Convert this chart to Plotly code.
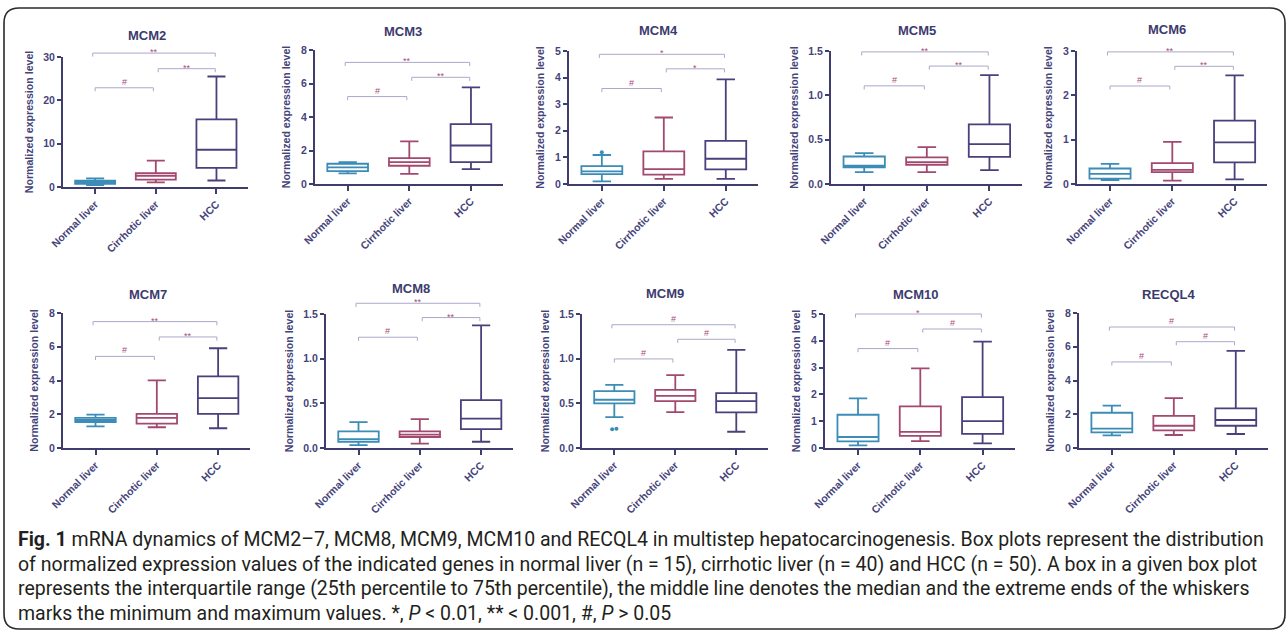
import plotly.graph_objects as go

W, H = 1288, 632

# ---------------- data ----------------
categories = ["Normal liver", "Cirrhotic liver", "HCC"]
genes = ["MCM2", "MCM3", "MCM4", "MCM5", "MCM6", "MCM7", "MCM8", "MCM9", "MCM10", "RECQL4"]

# box statistics: [min, q1, median, q3, max]
MCM2_normal = [0.45, 0.75, 1.05, 1.45, 2.0]
MCM2_cirrhotic = [1.07, 1.7, 2.6, 3.2, 6.1]
MCM2_hcc = [1.5, 4.4, 8.6, 15.6, 25.5]

MCM3_normal = [0.63, 0.77, 0.99, 1.21, 1.31]
MCM3_cirrhotic = [0.6, 1.09, 1.31, 1.55, 2.54]
MCM3_hcc = [0.89, 1.31, 2.3, 3.57, 5.77]

MCM4_normal = [0.1, 0.375, 0.475, 0.675, 1.09]
MCM4_cirrhotic = [0.19, 0.35, 0.56, 1.225, 2.5]
MCM4_hcc = [0.19, 0.55, 0.95, 1.625, 3.93]

MCM5_normal = [0.135, 0.187, 0.206, 0.31, 0.348]
MCM5_cirrhotic = [0.135, 0.217, 0.247, 0.3, 0.415]
MCM5_hcc = [0.157, 0.307, 0.449, 0.673, 1.227]

MCM6_normal = [0.09, 0.12, 0.23, 0.35, 0.456]
MCM6_cirrhotic = [0.075, 0.27, 0.32, 0.47, 0.95]
MCM6_hcc = [0.105, 0.49, 0.94, 1.43, 2.45]

MCM7_normal = [1.28, 1.54, 1.66, 1.78, 1.98]
MCM7_cirrhotic = [1.23, 1.44, 1.78, 2.02, 4.01]
MCM7_hcc = [1.17, 2.02, 2.96, 4.25, 5.91]

MCM8_normal = [0.033, 0.07, 0.1, 0.186, 0.29]
MCM8_cirrhotic = [0.048, 0.123, 0.149, 0.186, 0.324]
MCM8_hcc = [0.07, 0.212, 0.328, 0.536, 1.373]

MCM9_normal = [0.346, 0.499, 0.54, 0.636, 0.707]
MCM9_cirrhotic = [0.402, 0.525, 0.584, 0.651, 0.815]
MCM9_hcc = [0.182, 0.398, 0.525, 0.614, 1.098]

MCM10_normal = [0.1, 0.25, 0.41, 1.24, 1.85]
MCM10_cirrhotic = [0.26, 0.45, 0.6, 1.55, 2.97]
MCM10_hcc = [0.17, 0.53, 1.0, 1.9, 3.97]

RECQL4_normal = [0.75, 0.93, 1.15, 2.09, 2.51]
RECQL4_cirrhotic = [0.77, 1.05, 1.32, 1.9, 2.96]
RECQL4_hcc = [0.83, 1.32, 1.66, 2.35, 5.75]

# outliers (Normal liver)
MCM4_normal_outliers = [1.19]
MCM9_normal_outliers = [0.21, 0.215]

# y-axis maxima and tick steps
y_max = [30, 8, 5, 1.5, 3, 8, 1.5, 1.5, 5, 8]
y_dtick = [10, 2, 1, 0.5, 1, 2, 0.5, 0.5, 1, 2]

# significance brackets: heights [Normal-HCC, Cirrhotic-HCC, Normal-Cirrhotic] and labels
MCM2_brackets = [30.9, 27.3, 22.9]
MCM3_brackets = [7.26, 6.37, 5.22]
MCM4_brackets = [4.875, 4.33, 3.59]
MCM5_brackets = [1.49, 1.33, 1.107]
MCM6_brackets = [2.98, 2.655, 2.21]
MCM7_brackets = [7.49, 6.58, 5.43]
MCM8_brackets = [1.62, 1.46, 1.24]
MCM9_brackets = [1.38, 1.217, 0.997]
MCM10_brackets = [5.0, 4.44, 3.71]
RECQL4_brackets = [7.17, 6.3, 5.1]

MCM2_sig = ["**", "**", "#"]
MCM3_sig = ["**", "**", "#"]
MCM4_sig = ["*", "*", "#"]
MCM5_sig = ["**", "**", "#"]
MCM6_sig = ["**", "**", "#"]
MCM7_sig = ["**", "**", "#"]
MCM8_sig = ["**", "**", "#"]
MCM9_sig = ["#", "#", "#"]
MCM10_sig = ["*", "#", "#"]
RECQL4_sig = ["#", "#", "#"]

caption_lines = [
    "<b>Fig. 1</b> mRNA dynamics of MCM2–7, MCM8, MCM9, MCM10 and RECQL4 in multistep hepatocarcinogenesis. Box plots represent the distribution",
    "of normalized expression values of the indicated genes in normal liver (n = 15), cirrhotic liver (n = 40) and HCC (n = 50). A box in a given box plot",
    "represents the interquartile range (25th percentile to 75th percentile), the middle line denotes the median and the extreme ends of the whiskers",
    "marks the minimum and maximum values. *, <i>P</i> &lt; 0.01, ** &lt; 0.001, #, <i>P</i> &gt; 0.05",
]

box_data = [
    (MCM2_normal, MCM2_cirrhotic, MCM2_hcc),
    (MCM3_normal, MCM3_cirrhotic, MCM3_hcc),
    (MCM4_normal, MCM4_cirrhotic, MCM4_hcc),
    (MCM5_normal, MCM5_cirrhotic, MCM5_hcc),
    (MCM6_normal, MCM6_cirrhotic, MCM6_hcc),
    (MCM7_normal, MCM7_cirrhotic, MCM7_hcc),
    (MCM8_normal, MCM8_cirrhotic, MCM8_hcc),
    (MCM9_normal, MCM9_cirrhotic, MCM9_hcc),
    (MCM10_normal, MCM10_cirrhotic, MCM10_hcc),
    (RECQL4_normal, RECQL4_cirrhotic, RECQL4_hcc),
]
bracket_data = [MCM2_brackets, MCM3_brackets, MCM4_brackets, MCM5_brackets, MCM6_brackets,
                MCM7_brackets, MCM8_brackets, MCM9_brackets, MCM10_brackets, RECQL4_brackets]
sig_data = [MCM2_sig, MCM3_sig, MCM4_sig, MCM5_sig, MCM6_sig,
            MCM7_sig, MCM8_sig, MCM9_sig, MCM10_sig, RECQL4_sig]
outliers = {2: MCM4_normal_outliers, 7: MCM9_normal_outliers}

# ---------------- layout / style ----------------
# panel pixel geometry: (y-axis x, x-axis end, y at max tick, y at zero)
panel_px = [
    (63, 248, 57, 187), (315, 503, 50, 184), (569, 758, 51, 184), (831, 1022, 51, 184), (1077, 1267, 51, 184),
    (63, 250, 313, 448), (326, 513, 314, 448), (582, 768, 314, 448), (825, 1015, 314, 448), (1079, 1268, 313, 448),
]
title_px = [(147, 36), (403, 31), (658, 30), (917, 30), (1167, 29),
            (148, 294), (411, 288), (665, 293), (916, 294), (1169, 294)]

AXIS = "#3f3d6e"
TEXT = "#45447a"
GROUP_COLORS = ["#3b8cb6", "#a3486f", "#4b3f7c"]
BRACKET = "#a9a9c9"
SIG = "#a84a78"
FONT = "Liberation Sans, Arial, sans-serif"
XR = [-0.53, 2.52]
EXT = 1.25
# bracket x extents (category units)
br_x = [(-0.04, 1.98), (1.04, 1.98), (0.0, 0.96)]

fig = go.Figure()
layout = {}


def ax_name(n, letter):
    return f"{letter}axis" if n == 1 else f"{letter}axis{n}"


def ref(n, letter):
    return letter if n == 1 else f"{letter}{n}"


annotations = []
for i, gene in enumerate(genes):
    n1, n2 = 2 * i + 1, 2 * i + 2
    x0, x1, yt, yb = panel_px[i]
    xdom = [x0 / W, x1 / W]
    ydom = [1 - yb / H, 1 - yt / H]
    ydom_b = [1 - yb / H, 1 - (yb - (yb - yt) * EXT) / H]
    ymax = y_max[i]

    for j, stats in enumerate(box_data[i]):
        fig.add_trace(go.Box(
            x=[j], lowerfence=[stats[0]], q1=[stats[1]], median=[stats[2]],
            q3=[stats[3]], upperfence=[stats[4]],
            width=0.66, whiskerwidth=0.45, boxpoints=False,
            line=dict(color=GROUP_COLORS[j], width=1.8),
            fillcolor="rgba(255,255,255,0)",
            xaxis=ref(n1, "x"), yaxis=ref(n1, "y"),
            showlegend=False, hoverinfo="skip",
        ))
    if i in outliers:
        vals = outliers[i]
        xs = [0.0] if len(vals) == 1 else [-0.035, 0.035]
        fig.add_trace(go.Scatter(
            x=xs, y=vals, mode="markers",
            marker=dict(color=GROUP_COLORS[0], size=4),
            xaxis=ref(n1, "x"), yaxis=ref(n1, "y"), showlegend=False, hoverinfo="skip",
        ))

    # brackets
    bx, by = [], []
    drop = ymax * 0.027
    for (a, b), h in zip(br_x, bracket_data[i]):
        bx += [a, a, b, b, None]
        by += [h - drop, h, h, h - drop, None]
    fig.add_trace(go.Scatter(
        x=bx, y=by, mode="lines", line=dict(color=BRACKET, width=1),
        xaxis=ref(n2, "x"), yaxis=ref(n2, "y"), showlegend=False, hoverinfo="skip",
    ))
    for (a, b), h, s in zip(br_x, bracket_data[i], sig_data[i]):
        annotations.append(dict(
            text=s, x=(a + b) / 2, y=h, xref=ref(n2, "x"), yref=ref(n2, "y"),
            xanchor="center", yanchor="bottom", showarrow=False,
            yshift=-6 if s.startswith("*") else -1,
            font=dict(family=FONT, size=9, color=SIG),
        ))

    tickfont = dict(family=FONT, size=10.5, color=TEXT, weight="bold")
    layout[ax_name(n1, "x")] = dict(
        domain=xdom, range=XR, anchor=ref(n1, "y"), automargin=False,
        tickmode="array", tickvals=[0, 1, 2], ticktext=categories, tickangle=-45,
        showline=True, linecolor=AXIS, linewidth=2,
        ticks="outside", ticklen=5, tickwidth=1.6, tickcolor=AXIS,
        tickfont=tickfont, showgrid=False, zeroline=False, fixedrange=True,
    )
    layout[ax_name(n1, "y")] = dict(
        domain=ydom, range=[0, ymax], anchor=ref(n1, "x"), automargin=False,
        dtick=y_dtick[i], tick0=0, tickformat=".1f" if ymax == 1.5 else "d",
        showline=True, linecolor=AXIS, linewidth=2,
        ticks="outside", ticklen=4, tickwidth=1.6, tickcolor=AXIS,
        tickfont=tickfont, showgrid=False, zeroline=False, fixedrange=True,
        title=dict(text="Normalized expression level", standoff=8,
                   font=dict(family=FONT, size=10.6, color=TEXT, weight="bold")),
    )
    layout[ax_name(n2, "x")] = dict(domain=xdom, range=XR, anchor=ref(n2, "y"), visible=False,
                                    fixedrange=True, automargin=False)
    layout[ax_name(n2, "y")] = dict(domain=ydom_b, range=[0, ymax * EXT], anchor=ref(n2, "x"), visible=False,
                                    fixedrange=True, automargin=False)

    tx, ty = title_px[i]
    annotations.append(dict(
        text=f"<b>{gene}</b>", x=tx / W, y=1 - ty / H, xref="paper", yref="paper",
        xanchor="center", yanchor="middle", showarrow=False,
        font=dict(family=FONT, size=13, color="#3d3b6d"),
    ))

caption_y = [539, 564, 588, 613]
for line, cy in zip(caption_lines, caption_y):
    annotations.append(dict(
        text=line, x=16 / W, y=1 - cy / H, xref="paper", yref="paper",
        xanchor="left", yanchor="middle", showarrow=False, align="left",
        font=dict(family="Roboto, sans-serif", size=19.5, color="#231f20"),
    ))

# rounded border around the whole figure
bl, bt, br_, bb, r = 4, 8, 1285, 629, 15


def px(x, y):
    return f"{x / W:.5f},{1 - y / H:.5f}"


border = (f"M {px(bl + r, bt)} L {px(br_ - r, bt)} Q {px(br_, bt)} {px(br_, bt + r)} "
          f"L {px(br_, bb - r)} Q {px(br_, bb)} {px(br_ - r, bb)} "
          f"L {px(bl + r, bb)} Q {px(bl, bb)} {px(bl, bb - r)} "
          f"L {px(bl, bt + r)} Q {px(bl, bt)} {px(bl + r, bt)} Z")

fig.update_layout(
    width=W, height=H, autosize=False,
    margin=dict(l=0, r=0, t=0, b=0, pad=0, autoexpand=False),
    paper_bgcolor="white", plot_bgcolor="rgba(0,0,0,0)",
    annotations=annotations,
    shapes=[dict(type="path", path=border, xref="paper", yref="paper",
                 line=dict(color="#2b2b2b", width=1.6), fillcolor="rgba(0,0,0,0)")],
    **layout,
)

fig.write_html(
    "out.html",
    config={"displayModeBar": False},
    post_script="document.body.style.margin='0';document.body.style.overflow='hidden';",
)
